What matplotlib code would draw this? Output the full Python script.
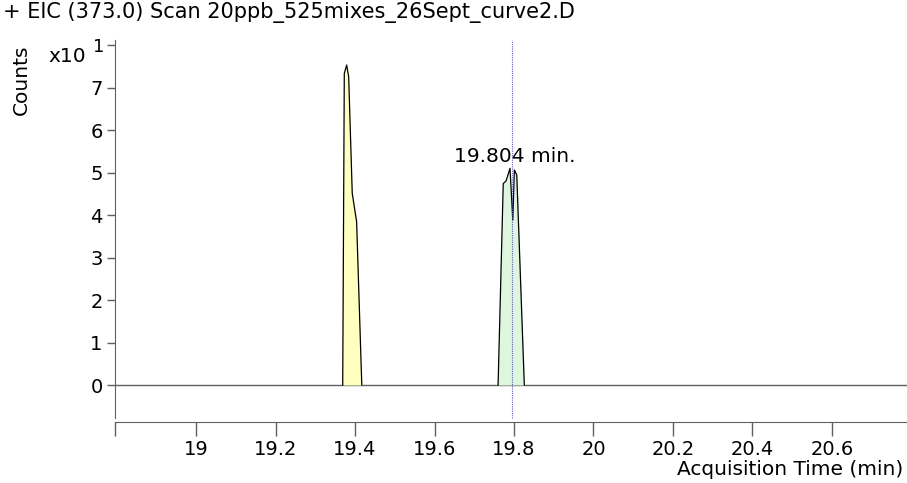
import matplotlib.pyplot as plt

# peak 1 (yellow)
peak1_time = [19.369, 19.373, 19.379, 19.384, 19.393, 19.404, 19.417]
peak1_counts = [0.0, 7.33, 7.53, 7.25, 4.51, 3.84, 0.0]

# peak 2 (green)
peak2_time = [19.760, 19.773, 19.780, 19.786, 19.790, 19.797, 19.801, 19.807, 19.826]
peak2_counts = [0.0, 4.74, 4.80, 4.98, 5.10, 3.88, 5.06, 4.94, 0.0]

marker_time = 19.796
marker_label = "19.804 min."

xticks = [19, 19.2, 19.4, 19.6, 19.8, 20, 20.2, 20.4, 20.6]
yticks = [0, 1, 2, 3, 4, 5, 6, 7]

plt.rcParams['font.family'] = ['DejaVu Sans']
fs = 14.5
fig = plt.figure(figsize=(9.07, 4.83), dpi=100)
ax = fig.add_axes([0.1268, 0.1346, 0.8732, 0.7826])

grey = '#606060'
ax.axhline(0, color=grey, lw=1.0, zorder=1)

ax.fill_between(peak1_time, peak1_counts, 0, color='#FFFFC0', lw=0, zorder=2)
ax.plot(peak1_time, peak1_counts, color='black', lw=0.9, zorder=3)
ax.fill_between(peak2_time, peak2_counts, 0, color='#DDF6DD', lw=0, zorder=2)
ax.plot(peak2_time, peak2_counts, color='black', lw=0.9, zorder=3)

ax.axvline(marker_time, color='#6060C0', lw=0.8, ls=(0, (1, 1)), zorder=4, clip_on=False)
ax.text(marker_time + 0.005, 5.15, marker_label, fontsize=fs, ha='center', va='bottom', zorder=5)

ax.set_xlim(18.796, 20.789)
ax.set_ylim(-0.776, 8.118)

ax.set_xticks(xticks)
ax.set_xticklabels([f'{t:g}' for t in xticks])
ax.set_xticks([18.797], minor=True)
ax.set_yticks(yticks + [8])
ax.set_yticklabels([str(v) for v in yticks] + [''])

for s in ['top', 'right']:
    ax.spines[s].set_visible(False)
ax.spines['left'].set_color(grey)
ax.spines['bottom'].set_color(grey)
ax.spines['bottom'].set_position(('outward', 3))
ax.tick_params(axis='x', direction='out', length=10, width=1, color=grey, labelsize=14, pad=3)
ax.tick_params(axis='x', which='minor', direction='out', length=10, width=1, color=grey)
ax.tick_params(axis='y', direction='out', length=6, width=1, color=grey, labelsize=14, pad=3)

fig.text(0.003, 0.975, '+ EIC (373.0) Scan 20ppb_525mixes_26Sept_curve2.D', fontsize=15, ha='left', va='center')
fig.text(0.024, 0.834, 'Counts', fontsize=fs, rotation=90, ha='center', va='center')
fig.text(0.053, 0.884, 'x10', fontsize=fs, ha='left', va='center')
fig.text(0.1025, 0.903, '1', fontsize=13, ha='left', va='center')
fig.text(0.996, 0.027, 'Acquisition Time (min)', fontsize=fs, ha='right', va='center')

fig.savefig('out.png', dpi=100)
